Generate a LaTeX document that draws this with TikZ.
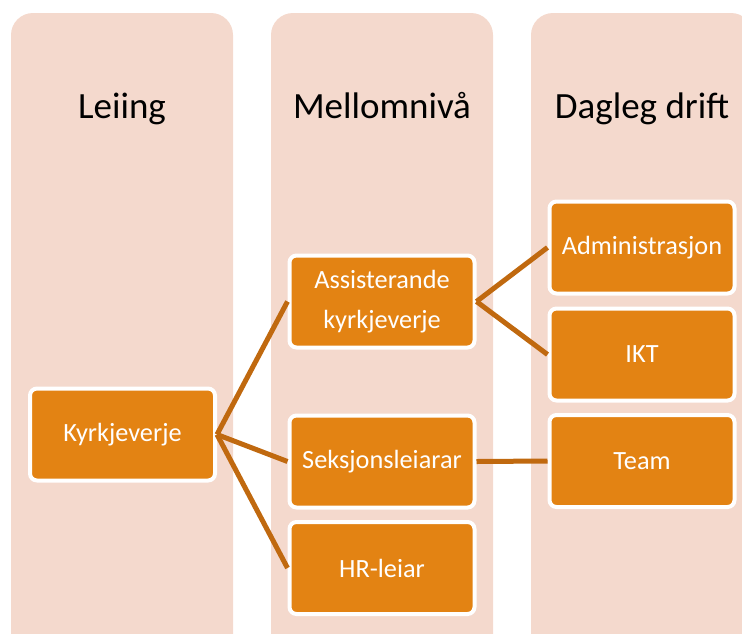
\documentclass[tikz,border=0pt]{standalone}
\usepackage{fontspec}
\setmainfont{Carlito}
\definecolor{colfill}{HTML}{F4D9CD}
\definecolor{boxfill}{HTML}{E38313}
\definecolor{linkcol}{HTML}{C0690F}
\tikzset{
  column/.style={fill=colfill, rounded corners=22pt},
  heading/.style={font=\fontsize{37}{40}\selectfont, text=black, anchor=base, inner sep=0pt},
  orgbox/.style={draw=white, line width=4pt, fill=boxfill, rounded corners=7pt,
    minimum width=185pt, minimum height=92pt, inner sep=0pt,
    text=white, align=center, font=\fontsize{26.3}{40}\selectfont},
  link/.style={draw=linkcol, line width=5pt}
}
\begin{document}
\begin{tikzpicture}[x=1pt,y=-1pt]
\useasboundingbox (0,0) rectangle (742,633);
\fill[column] (11,13) rectangle (233,660);
\fill[column] (271,13) rectangle (493,660);
\fill[column] (531,13) rectangle (753,660);
\node[heading] (h1) at (122,118) {Leiing};
\node[heading] (h2) at (382,118) {Mellomnivå};
\node[heading] (h3) at (642,118) {Dagleg drift};

\node[orgbox] (kv) at (122.5,434.5) {Kyrkjeverje};
\node[orgbox] (ak) at (382,301.5) {Assisterande\\kyrkjeverje};
\node[orgbox] (sl) at (382,461.5) {Seksjonsleiarar};
\node[orgbox] (hr) at (382,568) {HR-leiar};
\node[orgbox] (ad) at (642,247.5) {Administrasjon};
\node[orgbox] (ikt) at (642,354.5) {IKT};
\node[orgbox] (tm) at (642,461) {Team};

\draw[link] (kv.east) -- (ak.west);
\draw[link] (kv.east) -- (sl.west);
\draw[link] (kv.east) -- (hr.west);
\draw[link] (ak.east) -- (ad.west);
\draw[link] (ak.east) -- (ikt.west);
\draw[link] (sl.east) -- (tm.west);
\end{tikzpicture}
\end{document}
